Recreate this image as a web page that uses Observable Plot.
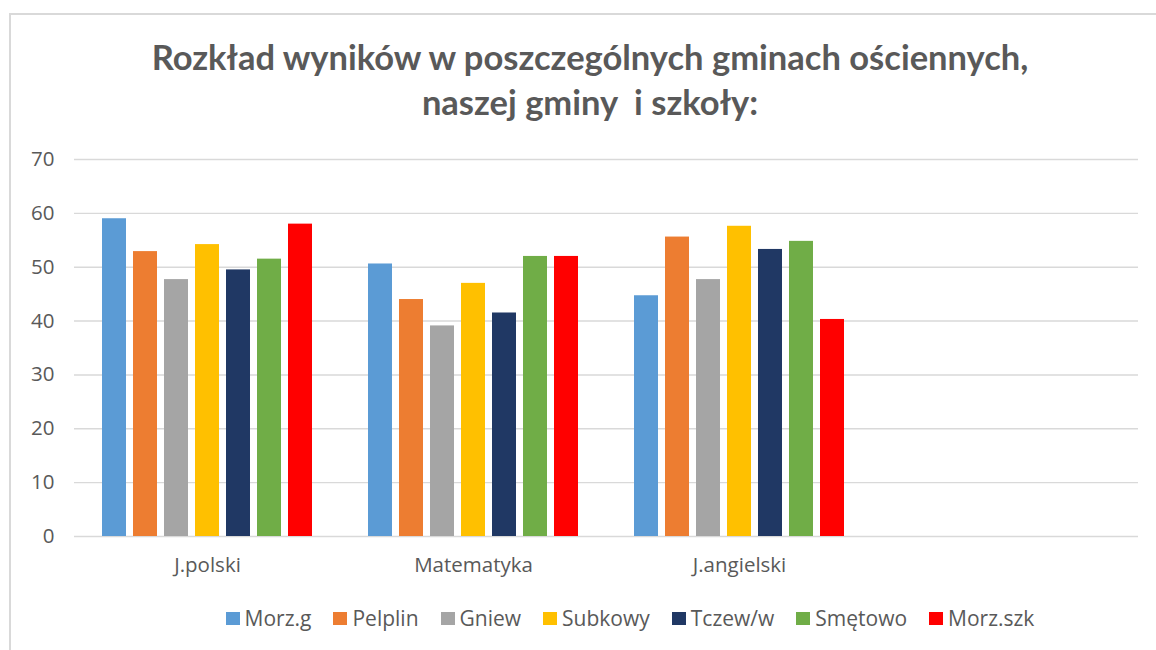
<!DOCTYPE html>
<html>
<head>
<meta charset="utf-8">
<script src="https://cdn.jsdelivr.net/npm/d3@7"></script>
<script src="https://cdn.jsdelivr.net/npm/@observablehq/plot@0.6"></script>
<style>
  html, body { margin: 0; padding: 0; background: #fff; }
  body { width: 1156px; height: 650px; overflow: hidden; position: relative; font-family: "Open Sans", Lato, sans-serif; }
  #frame { position: absolute; left: 9px; top: 13px; width: 1170px; height: 680px; border: 2px solid #d9d9d9; box-sizing: border-box; }
  #title { position: absolute; top: 34px; left: 0; width: 1180px; text-align: center; font-family: Lato, sans-serif; font-weight: bold; font-size: 34.5px; line-height: 45px; color: #595959; }
  #chart { position: absolute; top: 140px; left: 0; }
  #legend { position: absolute; top: 604px; left: 0; width: 1260px; display: flex; justify-content: center; font-size: 21px; color: #595959; }
  .item { display: flex; align-items: center; margin: 0 11px; }
  .sw { width: 14px; height: 13px; margin-right: 5px; }
</style>
</head>
<body>
<div id="frame"></div>
<div id="title">Rozkład wyników w poszczególnych gminach ościennych,<br>naszej gminy&nbsp; i szkoły:</div>
<div id="chart"></div>
<div id="legend"></div>
<script>
const categories = ["J.polski", "Matematyka", "J.angielski", ""];
const series = ["Morz.g", "Pelplin", "Gniew", "Subkowy", "Tczew/w", "Smętowo", "Morz.szk"];
const colors = ["#5B9BD5", "#ED7D31", "#A5A5A5", "#FFC000", "#203864", "#70AD47", "#FF0000"];
const jPolski    = [59.0, 52.9, 47.7, 54.2, 49.5, 51.5, 58.0];
const matematyka = [50.6, 44.0, 39.1, 47.0, 41.5, 52.0, 52.0];
const jAngielski = [44.7, 55.6, 47.7, 57.6, 53.3, 54.8, 40.3];
const yTicks = [0, 10, 20, 30, 40, 50, 60, 70];

const valuesByCategory = [jPolski, matematyka, jAngielski];
const data = [];
valuesByCategory.forEach((vals, ci) => {
  vals.forEach((v, si) => data.push({subject: categories[ci], series: series[si], value: v}));
});
const grid = [];
categories.forEach(c => yTicks.forEach(t => grid.push({subject: c, v: t})));

const chart = Plot.plot({
  width: 1156,
  height: 446,
  marginLeft: 72,
  marginRight: 17,
  marginTop: 19,
  marginBottom: 50,
  style: { fontSize: "20.5px", color: "#595959", fontFamily: "'Open Sans', Lato, sans-serif", background: "transparent" },
  fx: { domain: categories, padding: 0, label: null, tickSize: 0, tickPadding: 21, axis: "bottom" },
  x: { domain: series, paddingInner: 0.21, paddingOuter: 0.87, axis: null },
  y: { domain: [0, 70], ticks: yTicks, tickSize: 0, tickPadding: 20, label: null },
  color: { domain: series, range: colors },
  marks: [
    Plot.ruleY(grid, { fx: "subject", y: "v", stroke: "#d9d9d9", strokeWidth: 1.4 }),
    Plot.barY(data, { fx: "subject", x: "series", y: "value", fill: "series" })
  ]
});
document.getElementById("chart").appendChild(chart);

const legend = document.getElementById("legend");
series.forEach((s, i) => {
  const item = document.createElement("div");
  item.className = "item";
  const sw = document.createElement("span");
  sw.className = "sw";
  sw.style.background = colors[i];
  const t = document.createElement("span");
  t.textContent = s;
  item.appendChild(sw);
  item.appendChild(t);
  legend.appendChild(item);
});
</script>
</body>
</html>
